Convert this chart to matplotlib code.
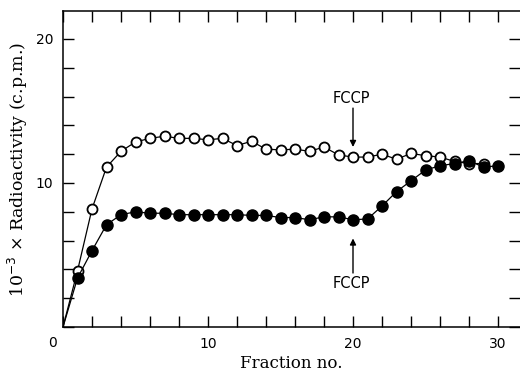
import matplotlib
matplotlib.use("Agg")
import matplotlib.pyplot as plt

# fraction numbers and counts (x 10^-3 c.p.m.)
open_x = [0, 1, 2, 3, 4, 5, 6, 7, 8, 9, 10, 11, 12, 13, 14, 15, 16, 17, 18,
          19, 20, 21, 22, 23, 24, 25, 26, 27, 28, 29]
open_y = [0, 3.9, 8.2, 11.1, 12.2, 12.85, 13.1, 13.25, 13.1, 13.1, 13.0, 13.1,
          12.6, 12.9, 12.35, 12.3, 12.35, 12.2, 12.5, 11.95, 11.8, 11.8, 12.0,
          11.65, 12.05, 11.9, 11.8, 11.5, 11.35, 11.35]

filled_x = [0, 1, 2, 3, 4, 5, 6, 7, 8, 9, 10, 11, 12, 13, 14, 15, 16, 17, 18,
            19, 20, 21, 22, 23, 24, 25, 26, 27, 28, 29, 30]
filled_y = [0, 3.4, 5.3, 7.1, 7.8, 8.0, 7.9, 7.9, 7.8, 7.8, 7.8, 7.8, 7.8,
            7.75, 7.75, 7.6, 7.6, 7.45, 7.65, 7.65, 7.45, 7.5, 8.4, 9.4, 10.15,
            10.9, 11.2, 11.35, 11.55, 11.1, 11.2]

x_ticks = list(range(0, 32, 2))
x_labels = ["" if t % 10 else str(t) for t in x_ticks]
x_labels[0] = ""
y_ticks = list(range(0, 22, 2))
y_labels = ["" if t % 10 or t == 0 else str(t) for t in y_ticks]

# FCCP marks: (tip, tail, text) heights
fccp_x = 20
fccp_upper = (12.5, 15.2, 15.9)
fccp_lower = (6.15, 3.75, 3.05)

sans = "DejaVu Sans"
serif = "DejaVu Serif"

fig = plt.figure(figsize=(5.2, 3.72), dpi=100)
ax = fig.add_axes([63 / 520, 1 - 327 / 372, 1 - 63 / 520, (327 - 11) / 372])

ax.plot(open_x, open_y, "k-", lw=0.9, zorder=2)
ax.plot(open_x[1:], open_y[1:], "o", ms=7.2, mfc="white", mec="black",
        mew=1.3, ls="none", zorder=3)
ax.plot(filled_x, filled_y, "k-", lw=0.9, zorder=4)
ax.plot(filled_x[1:], filled_y[1:], "o", ms=8, mfc="black", mec="black",
        ls="none", zorder=5)

for tip, tail, txt in [fccp_upper, fccp_lower]:
    ax.annotate("", xy=(fccp_x, tip), xytext=(fccp_x, tail),
                arrowprops=dict(arrowstyle="-|>", color="black", lw=1,
                                mutation_scale=9, shrinkA=0, shrinkB=0))
    ax.text(fccp_x - 0.1, txt, "FCCP", ha="center", va="center",
            fontsize=10.5, family=sans)

ax.set_xlim(0, 457 / 14.5)
ax.set_ylim(0, 316 / 14.4)
ax.set_xticks(x_ticks)
ax.set_xticklabels(x_labels, family=sans, fontsize=10)
ax.set_yticks(y_ticks)
ax.set_yticklabels(y_labels, family=sans, fontsize=10)
ax.tick_params(direction="in", length=8, width=1, top=True, right=True,
               pad=7)
ax.spines["right"].set_visible(False)
for s in ["left", "bottom", "top"]:
    ax.spines[s].set_linewidth(1.1)

ax.text(-12 / 520, -0.028, "0", transform=ax.transAxes, ha="center",
        va="top", family=sans, fontsize=10)

ax.set_xlabel("Fraction no.", family=serif, fontsize=12, labelpad=3)
ax.set_ylabel("10$^{-3}$ × Radioactivity (c.p.m.)", family=serif,
              fontsize=12.5, labelpad=4)

fig.savefig("out.png", dpi=100)
